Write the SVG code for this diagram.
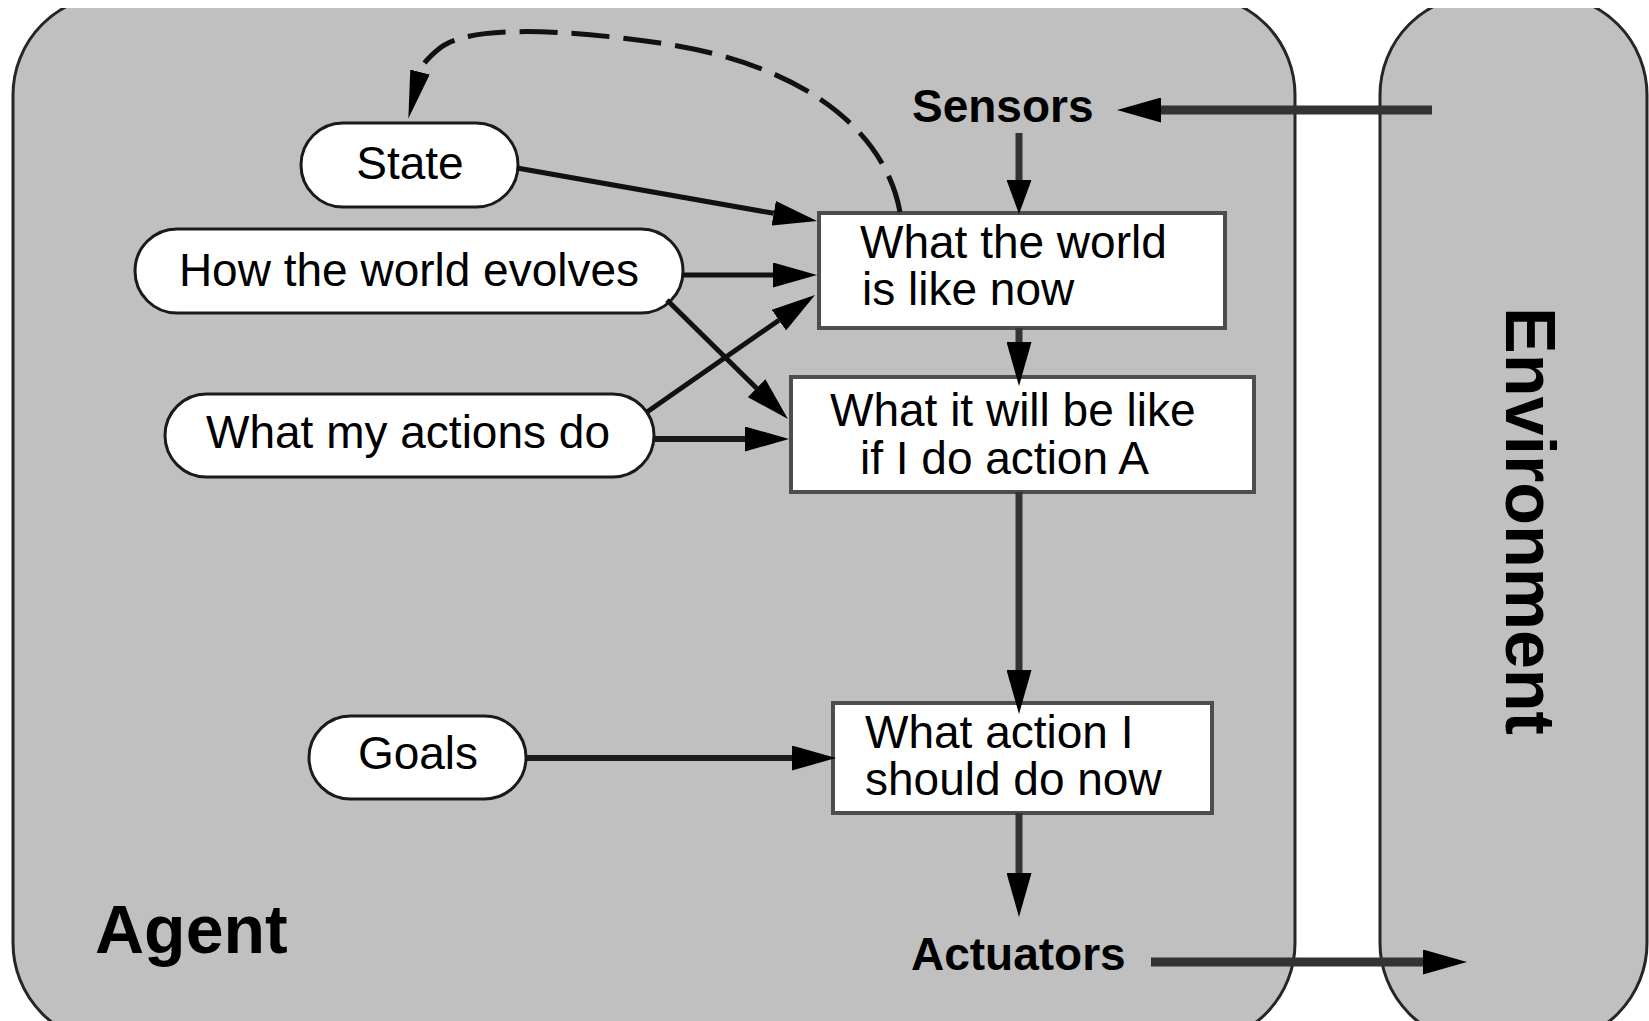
<svg xmlns="http://www.w3.org/2000/svg" width="1649" height="1021" viewBox="0 0 1649 1021">
<defs>
<style>
.frame{fill:#c0c0c0;stroke:#262626;stroke-width:3}
.pill{fill:#fff;stroke:#1a1a1a;stroke-width:3}
.box{fill:#fff;stroke:#4d4d4d;stroke-width:4}
.t{font-family:"Liberation Sans",Arial,Helvetica,sans-serif;font-size:46px;fill:#000}
.b{font-weight:bold}
.c{text-anchor:middle}
.thin{fill:none;stroke:#111;stroke-width:5;marker-end:url(#ah)}
.mid{fill:none;stroke:#1a1a1a;stroke-width:6;marker-end:url(#ah)}
.vert{fill:none;stroke:#333;stroke-width:7;marker-end:url(#ah)}
.env{fill:none;stroke:#333;stroke-width:9;marker-end:url(#ah)}
.dash{fill:none;stroke:#111;stroke-width:5;stroke-dasharray:38 14;marker-end:url(#ahd)}
</style>
<clipPath id="clip"><rect x="0" y="8" width="1649" height="1013"/></clipPath>
<marker id="ah" markerUnits="userSpaceOnUse" markerWidth="44" markerHeight="25" refX="0" refY="12.5" orient="auto" viewBox="0 0 44 25"><path d="M0,0 L44,12.5 L0,25 z" fill="#000"/></marker>
<marker id="ahs" markerUnits="userSpaceOnUse" markerWidth="34" markerHeight="25" refX="0" refY="12.5" orient="auto" viewBox="0 0 34 25"><path d="M0,0 L34,12.5 L0,25 z" fill="#000"/></marker>
<marker id="ahd" markerUnits="userSpaceOnUse" markerWidth="48" markerHeight="20" refX="0" refY="10" orient="auto" viewBox="0 0 48 20"><path d="M0,0 L48,10 L0,20 z" fill="#000"/></marker>
</defs>
<rect width="1649" height="1021" fill="#fff"/>
<g id="agent" clip-path="url(#clip)">
<rect class="frame" x="13" y="-5" width="1282" height="1048" rx="100" ry="100"/>
<text class="t b" x="95" y="953" style="font-size:68px">Agent</text>
</g>
<g id="environment" clip-path="url(#clip)">
<rect class="frame" x="1380" y="-5" width="267" height="1048" rx="100" ry="100"/>
<text class="t b c" transform="translate(1506,521) rotate(90)" style="font-size:70px">Environment</text>
</g>
<g id="sensors"><text class="t b" x="912" y="122">Sensors</text></g>
<g id="actuators"><text class="t b" x="911" y="970">Actuators</text></g>
<g id="state"><rect class="pill" x="301" y="123" width="217" height="84" rx="42"/><text class="t c" x="410" y="179">State</text></g>
<g id="evolves"><rect class="pill" x="135" y="229" width="548" height="84" rx="42"/><text class="t c" x="409" y="286">How the world evolves</text></g>
<g id="actions"><rect class="pill" x="165" y="394" width="489" height="83" rx="41.5"/><text class="t c" x="408" y="448">What my actions do</text></g>
<g id="goals"><rect class="pill" x="309" y="716" width="217" height="83" rx="41.5"/><text class="t c" x="418" y="769">Goals</text></g>
<g id="world"><rect class="box" x="819" y="213" width="406" height="115"/><text class="t" x="860" y="258">What the world</text><text class="t" x="862" y="305">is like now</text></g>
<g id="willbe"><rect class="box" x="791" y="377" width="463" height="115"/><text class="t" x="830" y="426">What it will be like</text><text class="t" x="860" y="474">if I do action A</text></g>
<g id="action"><rect class="box" x="833" y="703" width="379" height="110"/><text class="t" x="865" y="748">What action I</text><text class="t" x="865" y="795">should do now</text></g>
<g id="connectors">
<path class="env" d="M1432,110 L1161,110"/>
<path class="vert" style="marker-end:url(#ahs)" d="M1019,133 L1019,180"/>
<path class="thin" d="M517,168 L773.7,213.3"/>
<path class="thin" d="M683,275 L773,275"/>
<path class="thin" d="M667,300 L756.6,388.2"/>
<path class="thin" d="M647,412 L778.9,320.2"/>
<path class="mid" d="M654,439 L745,439"/>
<path class="vert" d="M1019,328 L1019,342"/>
<path class="vert" d="M1019,492 L1019,670"/>
<path class="mid" d="M526,758 L792,758"/>
<path class="vert" d="M1019,813 L1019,873"/>
<path class="env" d="M1151,962 L1423,962"/>
<path class="dash" d="M900,212 C886,135 810,65 660,43 C570,30 470,24 440,48 C430,56 422,64 420,72"/>
</g>
</svg>
